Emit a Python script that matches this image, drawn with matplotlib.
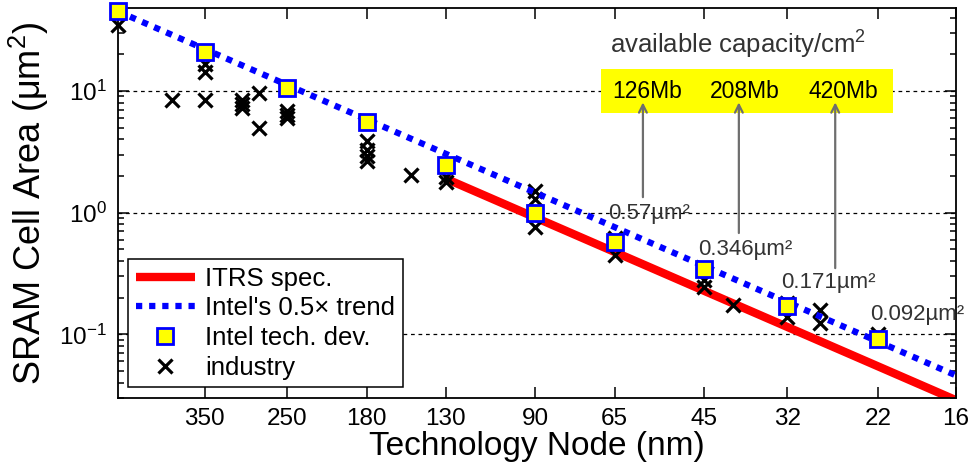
import matplotlib
matplotlib.use("Agg")
import matplotlib.pyplot as plt
from matplotlib.ticker import NullLocator, LogLocator

plt.rcParams['font.family'] = ['Liberation Sans', 'DejaVu Sans']
plt.rcParams['mathtext.fontset'] = 'custom'
plt.rcParams['mathtext.rm'] = 'Liberation Sans'
plt.rcParams['mathtext.it'] = 'Liberation Sans:italic'
plt.rcParams['mathtext.default'] = 'regular'

# technology nodes on the axis (nm)
tick_nodes = [350, 250, 180, 130, 90, 65, 45, 32, 22, 16]

# Intel tech. dev. cell sizes (um^2)
intel_nodes = [500, 350, 250, 180, 130, 90, 65, 45, 32, 22]
intel_area = [45, 21, 10.5, 5.6, 2.45, 1.0, 0.57, 0.346, 0.171, 0.092]

# Intel's 0.5x trend, end points
trend_nodes = [500, 16]
trend_area = [45, 0.046]

# ITRS spec, end points
itrs_nodes = [130, 16]
itrs_area = [1.9, 0.0288]

# industry reports
ind_nodes = [500, 400, 350, 350, 350, 300, 300, 300, 280, 280,
             250, 250, 250, 180, 180, 180, 180, 150, 130, 130,
             90, 90, 90, 65, 65, 45, 45, 40, 32, 32, 28, 28, 22]
ind_area = [35, 8.4, 16.5, 14.3, 8.4, 8.4, 7.8, 7.3, 9.6, 5.0,
            6.9, 6.4, 6.0, 3.9, 3.3, 2.9, 2.65, 2.05, 1.95, 1.8,
            1.5, 1.3, 0.76, 0.62, 0.45, 0.28, 0.245, 0.173, 0.18, 0.14, 0.158, 0.124, 0.1]

cap_labels = ['126Mb', '208Mb', '420Mb']
size_labels = ['0.57\u00b5m\u00b2', '0.346\u00b5m\u00b2', '0.171\u00b5m\u00b2', '0.092\u00b5m\u00b2']

fig = plt.figure(figsize=(9.72, 4.68), dpi=100)
ax = fig.add_axes([0.1214, 0.1496, 0.862, 0.8333])

ax.set_xscale('log')
ax.set_yscale('log')

for y in [10, 1, 0.1]:
    ax.axhline(y, color='black', lw=0.9, ls=(0, (3, 3)), zorder=1)

ax.plot(itrs_nodes, itrs_area, color='#ff0000', lw=6, solid_capstyle='butt',
        zorder=2, label='ITRS spec.')
ax.plot(ind_nodes, ind_area, ls='none', marker='x', ms=10.5, mew=2.3, color='black',
        zorder=3, clip_on=False, label='industry')
ax.plot(trend_nodes, trend_area, color='#0000ff', lw=4.5, ls=(0, (1, 1.1)),
        zorder=4, label='Intel\'s 0.5\u00d7 trend')
ax.plot(intel_nodes, intel_area, ls='none', marker='s', ms=11, mew=2,
        mfc='#ffff00', mec='#0000ff', zorder=5, clip_on=False, label='Intel tech. dev.')

ax.set_xlim(500, 16)
ax.set_ylim(0.03, 48)
ax.set_xticks(tick_nodes)
ax.set_xticklabels([str(n) for n in tick_nodes])
ax.xaxis.set_minor_locator(NullLocator())
ax.yaxis.set_major_locator(LogLocator(base=10, numticks=10))
ax.yaxis.set_minor_locator(LogLocator(base=10, subs=range(2, 10), numticks=20))

ax.tick_params(which='both', direction='in', top=True, right=True, width=1.1)
ax.tick_params(which='major', length=8)
ax.tick_params(which='minor', length=4)
ax.tick_params(axis='x', labelsize=17.5, pad=7)
ax.tick_params(axis='y', labelsize=17.5, pad=8)
for s in ax.spines.values():
    s.set_linewidth(1.3)

ax.set_xlabel('Technology Node (nm)', fontsize=24, labelpad=1)
ax.set_ylabel('SRAM Cell Area (\u03bcm$^2$)', fontsize=26, labelpad=6)

h, l = ax.get_legend_handles_labels()
order = [0, 2, 3, 1]
leg = ax.legend([h[i] for i in order], [l[i] for i in order], loc='lower left',
                bbox_to_anchor=(0.006, 0.014), fontsize=18.5, numpoints=1,
                handlelength=2.3, handletextpad=0.4, labelspacing=0.22,
                borderpad=0.3, borderaxespad=0.2, fancybox=False, framealpha=1,
                edgecolor='black')
leg.get_frame().set_linewidth(1.1)
leg.set_zorder(10)

# capacity box and arrows
box = plt.Rectangle((0.576, 0.731), 0.349, 0.113, transform=ax.transAxes,
                    facecolor='#ffff00', edgecolor='none', zorder=6)
ax.add_patch(box)
ax.text(0.740, 0.905, 'available capacity/cm$^2$', transform=ax.transAxes,
        ha='center', va='center', fontsize=18.5, color='#333333', zorder=7)
cap_x = [0.631, 0.748, 0.866]
for xx, t in zip(cap_x, cap_labels):
    ax.text(xx, 0.787, t, transform=ax.transAxes, ha='center', va='center',
            fontsize=16.5, color='black', zorder=7)

arrow_x = [0.6265, 0.741, 0.856]
arrow_tail = [0.515, 0.423, 0.333]
for xx, yt in zip(arrow_x, arrow_tail):
    ax.annotate('', xy=(xx, 0.758), xytext=(xx, yt), xycoords='axes fraction',
                arrowprops=dict(arrowstyle='->', color='#6e6e6e', lw=1.6,
                                mutation_scale=14, shrinkA=0, shrinkB=0), zorder=8)

lab_x = [0.585, 0.692, 0.792, 0.898]
lab_y = [0.474, 0.382, 0.295, 0.213]
for xx, yy, t in zip(lab_x, lab_y, size_labels):
    ax.text(xx, yy, t, transform=ax.transAxes, ha='left', va='center',
            fontsize=16, color='#333333', zorder=7, clip_on=False)

fig.savefig('out.png', dpi=100)
